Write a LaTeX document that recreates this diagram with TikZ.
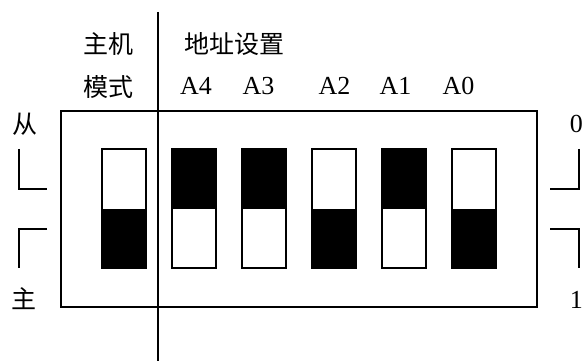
\documentclass[tikz,border=0pt]{standalone}
\usepackage{fontspec}
\setmainfont{Liberation Serif}
\newfontfamily\cjk{Noto Sans CJK SC}
\begin{document}
\begin{tikzpicture}[x=1pt,y=-1pt,line width=1.5pt,
  lbl/.style={inner sep=0pt,font=\fontsize{26}{30}\selectfont},
  cj/.style={inner sep=0pt,font=\cjk\fontsize{25}{30}\selectfont},
  sw/.style={draw=black,line width=1.5pt},
  knob/.style={fill=black}]
\useasboundingbox (0,0) rectangle (582,361);
% outer frame and divider
\draw[sw] (61,111) rectangle (537,307);
\coordinate (vt) at (158,12);
\coordinate (vb) at (158,361);
\draw (vt) -- (vb);
% switches: x, top black? (1) or bottom black (0)
\foreach \x/\s in {102/0,172/1,242/1,312/0,382/1,452/0}{
  \ifnum\s=1
    \fill[knob] (\x,149) rectangle (\x+44,209);
  \else
    \fill[knob] (\x,209) rectangle (\x+44,268);
  \fi
  \draw[sw] (\x,149) rectangle (\x+44,268);
}
% brackets
\draw (19,149) -- (19,189) -- (47,189);
\draw (47,229) -- (19,229) -- (19,268);
\draw (579,149) -- (579,189) -- (550,189);
\draw (550,229) -- (579,229) -- (579,268);
% texts
\node[cj] (zhuji) at (108.5,44) {主机};
\node[cj] (moshi) at (108.5,87) {模式};
\node[cj] (dizhi) at (234,44) {地址设置};
\node[cj] (cong) at (25,124) {从};
\node[cj] (zhu) at (24.5,299) {主};
\node[lbl,anchor=base] (a4) at (196,95) {A4};
\node[lbl,anchor=base] (a3) at (258.5,95) {A3};
\node[lbl,anchor=base] (a2) at (334.5,95) {A2};
\node[lbl,anchor=base] (a1) at (395.5,95) {A1};
\node[lbl,anchor=base] (a0) at (458.5,95) {A0};
\node[lbl,anchor=base west] (zero) at (569,132) {0};
\node[lbl,anchor=base west] (one) at (569,308) {1};
\end{tikzpicture}
\end{document}
